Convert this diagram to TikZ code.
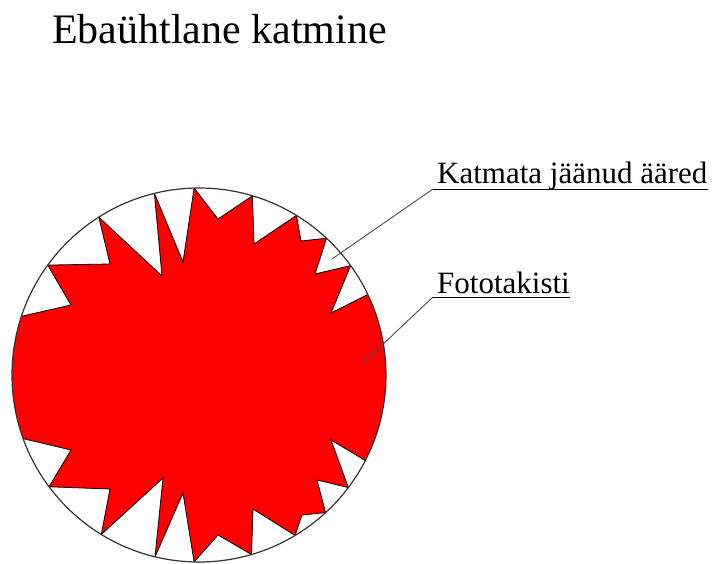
\documentclass[tikz,border=0pt]{standalone}
\usepackage{fontspec}
\setmainfont{Liberation Serif}
\usetikzlibrary{positioning}
\begin{document}
\begin{tikzpicture}[x=1pt, y=-1pt,
    lbl/.style={anchor=base west, inner sep=0pt, font=\fontsize{31}{36}\selectfont},
    leader/.style={draw=black!70, line width=0.9pt},
    uline/.style={draw=black, line width=0.8pt}]
  \useasboundingbox (0,0) rectangle (715,563);

  % Title
  \node[anchor=base west, inner sep=0pt, font=\fontsize{42}{50}\selectfont] (title) at (52,43) {Ebaühtlane katmine};

  % Photoresistor with an uneven coating
  \coordinate (c) at (199,375);
  \begin{scope}[shift={(c)}]
    \clip (0,0) circle[radius=187];
    \filldraw[fill=red, draw=black, line width=0.8pt]
      (-161.7:187) -- (-128,-70) -- (-144:187) -- (-89,-111) -- (-122.4:187)
      -- (-37,-99) -- (-103.8:187) -- (-16,-113) -- (-91.5:187) -- (19,-156)
      -- (-73.4:187) -- (55,-131) -- (-58.6:187) -- (102,-134) -- (-47:187)
      -- (116,-101) -- (-35.8:187) -- (132,-62) -- (-25.5:187)
      -- (-25.5:260) -- (0:260) -- (27.2:260) -- (27.2:187)
      -- (132,65) -- (37:187) -- (118,105) -- (47.4:187) -- (103,140)
      -- (59.1:187) -- (54,134) -- (73.7:187) -- (19,160) -- (91.5:187)
      -- (-16,118) -- (103.6:187) -- (-36,103) -- (121.5:187) -- (-89,114)
      -- (143.3:187) -- (-128,75) -- (160.1:187)
      -- (160.1:260) -- (180:260) -- (198.3:260) -- cycle;
  \end{scope}
  \draw[black!80, line width=1.2pt] (c) circle[radius=187];

  % Labels
  \node[lbl] (katm) at (437,183) {Katmata jäänud ääred};
  \node[lbl] (foto) at (437,293) {Fototakisti};

  \coordinate (gap) at (332,259);
  \coordinate (film) at (363,363);
  \coordinate (katmL) at ([shift={(-4pt,-6pt)}]katm.base west);
  \coordinate (fotoL) at ([shift={(-4pt,-4pt)}]foto.base west);

  \draw[leader] (gap) -- (katmL);
  \draw[uline] (katmL) -- (katmL -| katm.base east);
  \draw[leader] (film) -- (fotoL);
  \draw[uline] (fotoL) -- (fotoL -| foto.base east);
\end{tikzpicture}
\end{document}
